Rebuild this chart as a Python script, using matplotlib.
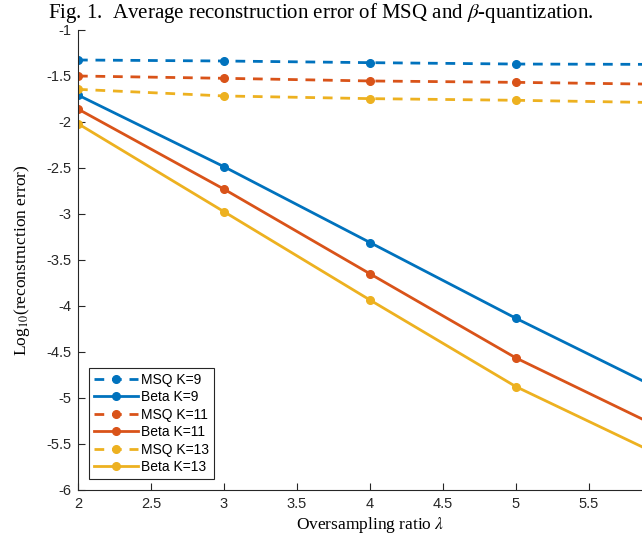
import matplotlib
matplotlib.use("Agg")
import matplotlib.pyplot as plt
from matplotlib.ticker import FuncFormatter

lam = [2, 3, 4, 5, 6]
msq_k9 = [-1.326, -1.337, -1.355, -1.370, -1.374]
beta_k9 = [-1.707, -2.486, -3.310, -4.134, -4.917]
msq_k11 = [-1.500, -1.525, -1.554, -1.569, -1.590]
beta_k11 = [-1.859, -2.730, -3.650, -4.565, -5.333]
msq_k13 = [-1.645, -1.717, -1.746, -1.764, -1.790]
beta_k13 = [-2.018, -2.975, -3.935, -4.877, -5.634]

series = [
    ("MSQ K=9", msq_k9, "#0072BD", "--"),
    ("Beta K=9", beta_k9, "#0072BD", "-"),
    ("MSQ K=11", msq_k11, "#D95319", "--"),
    ("Beta K=11", beta_k11, "#D95319", "-"),
    ("MSQ K=13", msq_k13, "#EDB120", "--"),
    ("Beta K=13", beta_k13, "#EDB120", "-"),
]

xticks = [2, 2.5, 3, 3.5, 4, 4.5, 5, 5.5]
yticks = [-6, -5.5, -5, -4.5, -4, -3.5, -3, -2.5, -2, -1.5, -1]

plt.rcParams['mathtext.fontset'] = 'stix'
fig = plt.figure(figsize=(6.42, 5.41), dpi=100)
ax = fig.add_axes([78/642, 51/541, 584/642, 460/541])

for label, vals, color, ls in series:
    ax.plot(lam, vals, color=color, linestyle=ls, linewidth=2.0,
            marker='o', markersize=5.5, label=label,
            dashes=(3.5, 2.8) if ls == '--' else (None, None))

ax.set_xlim(2, 6)
ax.set_ylim(-6, -1)
ax.set_xticks(xticks)
ax.set_yticks(yticks)
fmt = FuncFormatter(lambda v, p: ('%g' % v))
ax.xaxis.set_major_formatter(fmt)
ax.yaxis.set_major_formatter(fmt)

for s in ['top', 'right']:
    ax.spines[s].set_visible(False)
for s in ['left', 'bottom']:
    ax.spines[s].set_color('#262626')
    ax.spines[s].set_linewidth(0.8)
ax.tick_params(direction='in', length=5, width=0.8, colors='#262626',
               labelsize=10.5, pad=5)
for t in ax.get_xticklabels() + ax.get_yticklabels():
    t.set_family('Liberation Sans')

ax.set_xlabel(r'Oversampling ratio $\lambda$', family='Liberation Serif',
              fontsize=12.5, labelpad=3)
ax.set_ylabel(r'Log$_{10}$(reconstruction error)', family='Liberation Serif',
              fontsize=12.5, labelpad=10)

fig.text(0.5, 0.976, r'Fig. 1.  Average reconstruction error of MSQ and $\beta$-quantization.',
         ha='center', va='center', family='Liberation Serif', fontsize=15)

leg = ax.legend(loc='lower left', bbox_to_anchor=(11/584, 11/460),
                frameon=True, fancybox=False, framealpha=1,
                edgecolor='#262626', prop={'family': 'Liberation Sans', 'size': 10},
                handlelength=3.2, handletextpad=0.2, labelspacing=0.25,
                borderpad=0.35, borderaxespad=0)
leg.get_frame().set_linewidth(0.8)

fig.savefig('out.png', dpi=100)
